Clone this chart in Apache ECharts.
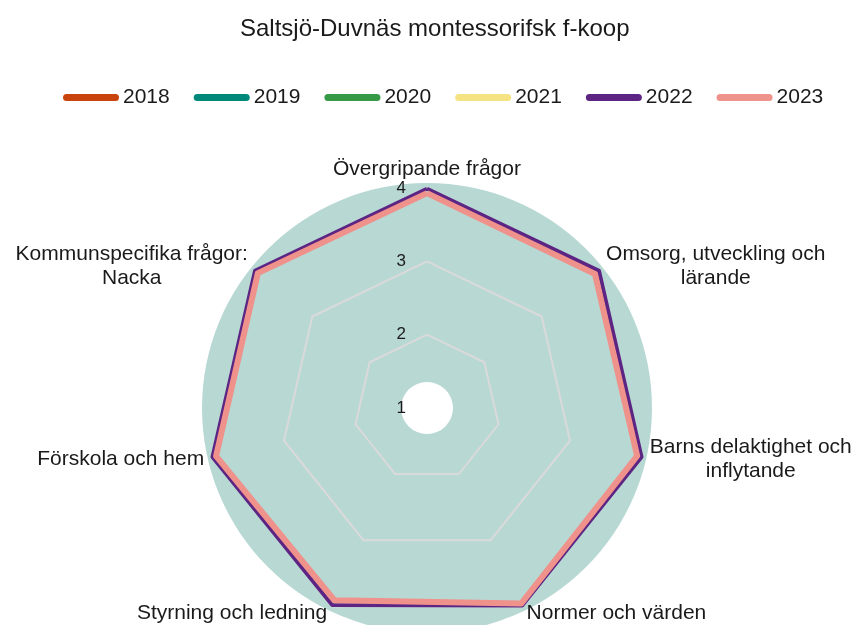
<!DOCTYPE html>
<html>
<head>
<meta charset="utf-8">
<script src="https://cdn.jsdelivr.net/npm/echarts@6/dist/echarts.min.js"></script>
<style>
  html, body { margin: 0; padding: 0; background: #fff; }
  #chart { width: 856px; height: 625px; }
</style>
</head>
<body>
<div id="chart"></div>
<script>
const years = ['2018', '2019', '2020', '2021', '2022', '2023']
// områden medurs från toppen
const areas = [
    'Övergripande frågor',
    'Omsorg, utveckling och\nlärande',
    'Barns delaktighet och\ninflytande',
    'Normer och värden',
    'Styrning och ledning',
    'Förskola och hem',
    'Kommunspecifika frågor:\nNacka'
]
const values2018 = []
const values2019 = []
const values2020 = []
const values2021 = []
const values2022 = [3.99, 4.0, 4.0, 3.99, 3.98, 4.0, 4.0]
const values2023 = [3.93, 3.93, 3.94, 3.96, 3.91, 3.95, 3.95]
const scaleMin = 1
const scaleMax = 4

const colors = ['#c9440d', '#00897b', '#359946', '#f4e283', '#5c2483', '#ef928b']
const font = 'Arial, "Liberation Sans", sans-serif'
const textColor = '#1a1a1a'

// echarts ritar radarn moturs, datan är medurs
const ccw = arr => arr.length ? [arr[0]].concat(arr.slice(1).reverse()) : arr

const ctx = document.createElement('canvas').getContext('2d')
ctx.font = '21px ' + font
const rich = {}
const nameOf = {}
areas.forEach((a, i) => {
    const lines = a.split('\n')
    const w = Math.max(...lines.map(l => ctx.measureText(l).width))
    rich['n' + i] = {
        fontSize: 21,
        lineHeight: 24,
        padding: i === 0 ? [0, 0, -6, 0] : 0,
        color: textColor,
        fontFamily: font,
        width: Math.ceil(w) + 1,
        align: 'center'
    }
    nameOf[a] = lines.map(l => '{n' + i + '|' + l + '}').join('\n')
})

const indicator = ccw(areas).map((a, i) => {
    const ind = { name: a, min: scaleMin, max: scaleMax }
    if (i === 0) ind.axisLabel = { show: true }
    return ind
})

const allValues = [values2018, values2019, values2020, values2021, values2022, values2023]

const option = {
    animation: false,
    title: {
        text: 'Saltsjö-Duvnäs montessorifsk f-koop',
        left: 235,
        top: 12,
        textStyle: { fontSize: 24, fontWeight: 'normal', color: textColor, fontFamily: font }
    },
    legend: {
        data: years,
        left: 58,
        top: 82,
        itemWidth: 56,
        itemHeight: 7,
        itemGap: 24,
        icon: 'path://M3.5,0 H52.5 A3.5,3.5 0 0 1 52.5,7 H3.5 A3.5,3.5 0 0 1 3.5,0 Z',
        selectedMode: false,
        textStyle: { fontSize: 21, color: textColor, fontFamily: font, padding: [0, 0, 0, -1] }
    },
    graphic: [
        { type: 'circle', z: -100, shape: { cx: 427, cy: 408, r: 225 }, style: { fill: '#b8d8d4' } },
        { type: 'circle', z: -99, shape: { cx: 427, cy: 408, r: 26 }, style: { fill: '#ffffff' } }
    ],
    radar: {
        center: [427, 408],
        radius: 220,
        startAngle: 90,
        shape: 'polygon',
        splitNumber: 3,
        nameGap: 8,
        indicator: indicator,
        axisName: {
            formatter: name => nameOf[name],
            rich: rich,
            fontSize: 21,
            color: textColor,
            fontFamily: font
        },
        axisLine: { show: false },
        axisTick: { show: false },
        axisLabel: {
            show: false,
            margin: 21,
            fontSize: 17,
            lineHeight: 17,
            padding: [0, 0, -6, 0],
            color: textColor,
            fontFamily: font
        },
        splitArea: { show: false },
        splitLine: { lineStyle: { color: '#dadada', width: 2 } }
    },
    series: years.map((y, i) => ({
        name: y,
        type: 'radar',
        symbol: 'none',
        color: colors[i],
        lineStyle: { width: y === '2023' ? 6 : 4, color: colors[i] },
        data: allValues[i].length ? [{ name: y, value: ccw(allValues[i]) }] : []
    }))
}

try {
    const chart = echarts.init(document.getElementById('chart'))
    chart.setOption(option, true)
} catch (e) {}
</script>
</body>
</html>
